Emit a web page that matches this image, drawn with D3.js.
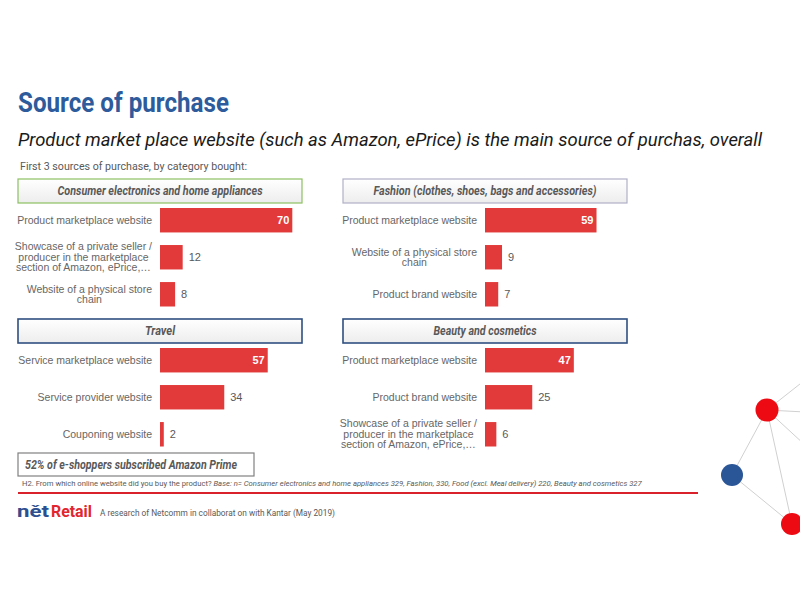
<!DOCTYPE html>
<html>
<head>
<meta charset="utf-8">
<script src="https://cdn.jsdelivr.net/npm/d3@7"></script>
<style>
  body { margin: 0; background: #fff; }
  text { font-family: "Liberation Sans", Arial, sans-serif; }
</style>
</head>
<body>
<svg width="800" height="600"></svg>
<script>
// chart data
var panelTitles = [
  "Consumer electronics and home appliances",
  "Fashion (clothes, shoes, bags and accessories)",
  "Travel",
  "Beauty and cosmetics"
];
var electronicsLabels = [["Product marketplace website"],
  ["Showcase of a private seller /", "producer in the marketplace", "section of Amazon, ePrice,\u2026"],
  ["Website of a physical store", "chain"]];
var fashionLabels = [["Product marketplace website"],
  ["Website of a physical store", "chain"],
  ["Product brand website"]];
var travelLabels = [["Service marketplace website"],
  ["Service provider website"],
  ["Couponing website"]];
var beautyLabels = [["Product marketplace website"],
  ["Product brand website"],
  ["Showcase of a private seller /", "producer in the marketplace", "section of Amazon, ePrice,\u2026"]];
var electronicsValues = [70, 12, 8];
var fashionValues = [59, 9, 7];
var travelValues = [57, 34, 2];
var beautyValues = [47, 25, 6];

var svg = d3.select("svg");
var red = "#e23a3a", grey = "#595959";

svg.append("rect").attr("width", 800).attr("height", 600).attr("fill", "#fff");

// titles
svg.append("text").attr("x", 18).attr("y", 112)
  .style("font-family", "Roboto").style("font-weight", "bold").style("font-size", "28px")
  .attr("fill", "#2d5b9b").attr("textLength", 211).attr("lengthAdjust", "spacingAndGlyphs")
  .text("Source of purchase");
svg.append("text").attr("x", 18).attr("y", 146)
  .style("font-family", "Roboto").style("font-style", "italic").style("font-size", "19px")
  .attr("fill", "#1a1a1a").attr("textLength", 744).attr("lengthAdjust", "spacingAndGlyphs")
  .text("Product market place website (such as Amazon, ePrice) is the main source of purchas, overall");
svg.append("text").attr("x", 20).attr("y", 170)
  .style("font-family", "Roboto").style("font-size", "11px")
  .attr("fill", grey).attr("textLength", 227).attr("lengthAdjust", "spacingAndGlyphs")
  .text("First 3 sources of purchase, by category bought:");

var panels = [
  {title: panelTitles[0], labels: electronicsLabels, values: electronicsValues, x: 18, y: 179, stroke: "#8dc063", sw: 1.2, tl: 205},
  {title: panelTitles[1], labels: fashionLabels, values: fashionValues, x: 343, y: 179, stroke: "#b0b0c8", sw: 1.2, tl: 223},
  {title: panelTitles[2], labels: travelLabels, values: travelValues, x: 18, y: 319, stroke: "#2f4f80", sw: 1.6, tl: 30},
  {title: panelTitles[3], labels: beautyLabels, values: beautyValues, x: 343, y: 319, stroke: "#2f4f80", sw: 1.6, tl: 103}
];

var defs = svg.append("defs");
var grad = defs.append("linearGradient").attr("id", "hdr").attr("x1", 0).attr("y1", 0).attr("x2", 0).attr("y2", 1);
grad.append("stop").attr("offset", "0%").attr("stop-color", "#ffffff");
grad.append("stop").attr("offset", "100%").attr("stop-color", "#ededed");

var x = d3.scaleLinear().domain([0, 100]).range([0, 189]);

panels.forEach(function(p) {
  var g = svg.append("g");
  g.append("rect").attr("x", p.x).attr("y", p.y).attr("width", 284).attr("height", 24)
    .attr("fill", "url(#hdr)").attr("stroke", p.stroke).attr("stroke-width", p.sw);
  g.append("text").attr("x", p.x + 142).attr("y", p.y + 16)
    .attr("text-anchor", "middle").style("font-family", "Roboto").style("font-weight", "bold")
    .style("font-style", "italic").style("font-size", "12px").attr("fill", grey)
    .attr("textLength", p.tl).attr("lengthAdjust", "spacingAndGlyphs")
    .text(p.title);

  var x0 = p.x + 142;
  var y = d3.scaleBand().domain([0, 1, 2]).range([p.y + 29, p.y + 127.5])
    .paddingInner(0.34).paddingOuter(0);

  g.selectAll("rect.bar").data(p.values).enter().append("rect")
    .attr("class", "bar")
    .attr("x", x0)
    .attr("y", function(d, i) { return y(i); })
    .attr("width", function(d) { return x(d); })
    .attr("height", y.bandwidth())
    .attr("fill", red);

  g.selectAll("text.val").data(p.values).enter().append("text")
    .attr("class", "val")
    .attr("x", function(d, i) { return i === 0 ? x0 + x(d) - 3 : x0 + x(d) + 6; })
    .attr("y", function(d, i) { return y(i) + y.bandwidth() / 2 + 4; })
    .attr("text-anchor", function(d, i) { return i === 0 ? "end" : "start"; })
    .style("font-size", "11px")
    .style("font-weight", function(d, i) { return i === 0 ? "bold" : "normal"; })
    .attr("fill", function(d, i) { return i === 0 ? "#fff" : grey; })
    .text(function(d) { return d; });

  // category labels: single lines right aligned, wrapped ones centred in their block
  g.selectAll("text.lab").data(p.labels).enter().append("text")
    .attr("class", "lab")
    .style("font-size", "10.5px")
    .attr("fill", "#666")
    .each(function(lines, i) {
      var t = d3.select(this);
      var cy = y(i) + y.bandwidth() / 2;
      var spans = lines.map(function(line, k) {
        return t.append("tspan")
          .attr("y", cy + 3.5 + (k - (lines.length - 1) / 2) * 10.5)
          .text(line);
      });
      var widest = d3.max(spans, function(s) { return s.node().getComputedTextLength(); });
      spans.forEach(function(s) {
        if (lines.length === 1) {
          s.attr("x", x0 - 8).attr("text-anchor", "end");
        } else {
          s.attr("x", x0 - 8 - widest / 2).attr("text-anchor", "middle");
        }
      });
    });
});

// footer box
svg.append("rect").attr("x", 18).attr("y", 453).attr("width", 236).attr("height", 23)
  .attr("fill", "#fff").attr("stroke", "#808080").attr("stroke-width", 1.2);
svg.append("text").attr("x", 25).attr("y", 469)
  .style("font-family", "Roboto").style("font-weight", "bold").style("font-style", "italic")
  .style("font-size", "12.5px").attr("fill", grey)
  .attr("textLength", 212).attr("lengthAdjust", "spacingAndGlyphs")
  .text("52% of e-shoppers subscribed Amazon Prime");

var note = svg.append("text").attr("y", 486)
  .style("font-family", "Roboto").style("font-size", "8px").attr("fill", grey);
note.append("tspan").text("H2. From which online website did you buy the product? ");
note.append("tspan").style("font-style", "italic")
  .text("Base: n= Consumer electronics and home appliances 329, Fashion, 330, Food (excl. Meal delivery) 220, Beauty and cosmetics 327");
var noteW = note.node().getComputedTextLength();
note.attr("transform", "translate(22,0) scale(" + (621 / noteW) + ",1)");

svg.append("line").attr("x1", 18).attr("x2", 698).attr("y1", 493).attr("y2", 493)
  .attr("stroke", "#d9212b").attr("stroke-width", 2);

// logo
svg.append("text").attr("x", 17).attr("y", 517)
  .style("font-family", "Roboto").style("font-weight", "bold").style("font-size", "17px")
  .attr("fill", "#2d4f8f").attr("textLength", 32).attr("lengthAdjust", "spacingAndGlyphs")
  .text("n\u011bt");
svg.append("text").attr("x", 51).attr("y", 517)
  .style("font-family", "Roboto").style("font-weight", "bold").style("font-size", "17px")
  .attr("fill", "#e2262f").attr("textLength", 41).attr("lengthAdjust", "spacingAndGlyphs")
  .text("Retail");
svg.append("text").attr("x", 100).attr("y", 516)
  .style("font-family", "Roboto").style("font-size", "9px").attr("fill", grey)
  .attr("textLength", 235).attr("lengthAdjust", "spacingAndGlyphs")
  .text("A research of Netcomm in collaborat on with Kantar (May 2019)");

// network decoration
var nodes = [{x: 767, y: 410, r: 11.5, c: "#ee0a12"}, {x: 732, y: 475, r: 11, c: "#2a5597"}, {x: 792, y: 524, r: 11, c: "#ee0a12"}];
var links = [[767, 410, 732, 475], [767, 410, 792, 524], [732, 475, 792, 524],
  [767, 410, 805, 380], [767, 410, 805, 412], [767, 410, 805, 445]];
svg.selectAll("line.link").data(links).enter().append("line")
  .attr("x1", function(d) { return d[0]; }).attr("y1", function(d) { return d[1]; })
  .attr("x2", function(d) { return d[2]; }).attr("y2", function(d) { return d[3]; })
  .attr("stroke", "#d0d0d0").attr("stroke-width", 1);
svg.selectAll("circle.node").data(nodes).enter().append("circle")
  .attr("cx", function(d) { return d.x; }).attr("cy", function(d) { return d.y; })
  .attr("r", function(d) { return d.r; }).attr("fill", function(d) { return d.c; });
</script>
</body>
</html>
